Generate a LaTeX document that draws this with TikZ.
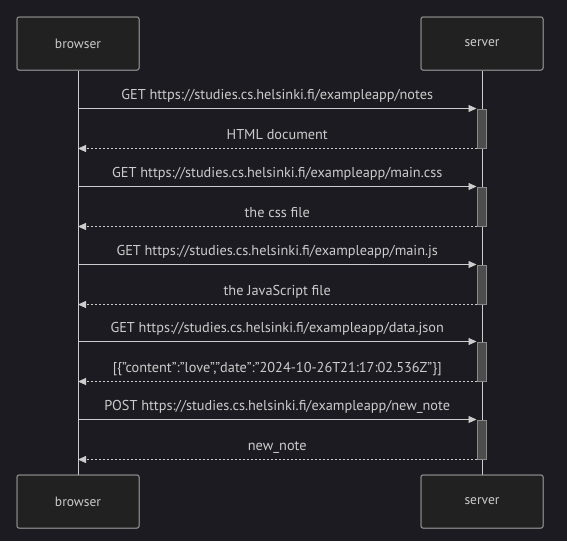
\documentclass[tikz,border=0pt]{standalone}
\usepackage{fontspec}
\setmainfont{PT Sans}
\usetikzlibrary{arrows.meta}
\definecolor{bg}{HTML}{1C1B21}
\definecolor{boxfill}{HTML}{212121}
\definecolor{boxline}{HTML}{8A8A8A}
\definecolor{ink}{HTML}{CCCCCC}
\definecolor{actfill}{HTML}{4D4D4D}
\tikzset{
  actor/.style={draw=boxline, fill=boxfill, rounded corners=2pt, line width=1pt, minimum width=122pt, minimum height=53pt, text=ink, font=\fontsize{13.5}{16}\selectfont},
  act/.style={draw=boxline, fill=actfill, line width=1pt, minimum width=9pt, minimum height=39pt, inner sep=0pt},
  msg/.style={draw=ink, line width=0.8pt, -{Triangle[length=8pt,width=7pt]}},
  reply/.style={msg, dash pattern=on 2pt off 2pt},
  lbl/.style={midway, anchor=base, yshift=9.5pt, text=ink, font=\fontsize{14.3}{17}\selectfont}
}
\begin{document}
\begin{tikzpicture}[x=1pt, y=-1pt]
    \fill[bg] (0,0) rectangle (567,541);
    \useasboundingbox (0,0) rectangle (567,541);

    \node[actor] (browser) at (78,43.5) {browser};
    \node[actor] (server) at (482,43.5) {server};
    \node[actor] (browserb) at (78,501.5) {browser};
    \node[actor] (serverb) at (482,501.5) {server};

    \draw[ink, line width=1pt] (browser) -- (browserb);
    \draw[ink, line width=1pt] (server) -- (serverb);
    \node[actor] at (browser) {browser};
    \node[actor] at (server) {server};
    \node[actor] at (browserb) {browser};
    \node[actor] at (serverb) {server};

    \node[act] (a1) at (481.5,128.5) {};
    \node[act] (a2) at (481.5,206.5) {};
    \node[act] (a3) at (481.5,284.5) {};
    \node[act] (a4) at (481.5,361.5) {};
    \node[act] (a5) at (481.5,439.5) {};

    \draw[msg] (browser |- a1.north west) -- (a1.north west) node[lbl] {GET https://studies.cs.helsinki.fi/exampleapp/notes};
    \draw[reply] (a1.south west) -- (browser |- a1.south west) node[lbl] {HTML document};
    \draw[msg] (browser |- a2.north west) -- (a2.north west) node[lbl] {GET https://studies.cs.helsinki.fi/exampleapp/main.css};
    \draw[reply] (a2.south west) -- (browser |- a2.south west) node[lbl] {the css file};
    \draw[msg] (browser |- a3.north west) -- (a3.north west) node[lbl] {GET https://studies.cs.helsinki.fi/exampleapp/main.js};
    \draw[reply] (a3.south west) -- (browser |- a3.south west) node[lbl] {the JavaScript file};
    \draw[msg] (browser |- a4.north west) -- (a4.north west) node[lbl] {GET https://studies.cs.helsinki.fi/exampleapp/data.json};
    \draw[reply] (a4.south west) -- (browser |- a4.south west) node[lbl] {[\{"content":"love","date":"2024-10-26T21:17:02.536Z"\}]};
    \draw[msg] (browser |- a5.north west) -- (a5.north west) node[lbl] {POST https://studies.cs.helsinki.fi/exampleapp/new\_note};
    \draw[reply] (a5.south west) -- (browser |- a5.south west) node[lbl] {new\_note};
  \end{tikzpicture}
\end{document}
